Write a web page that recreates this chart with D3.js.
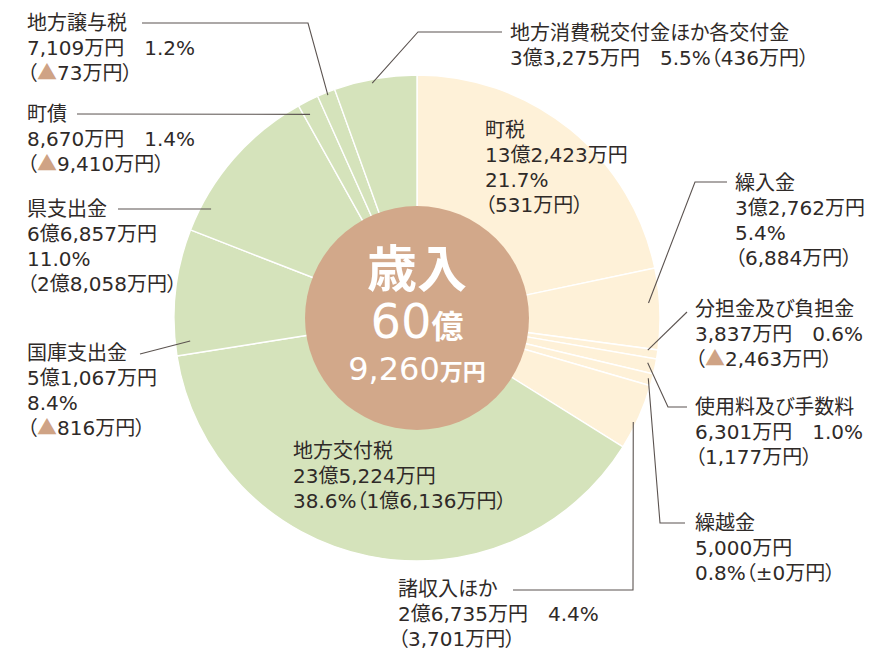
<!DOCTYPE html>
<meta charset="utf-8">
<title>歳入</title>
<script src="https://d3js.org/d3.v7.min.js"></script>
<style>
  body { margin: 0; background: #fff; }
  svg { display: block; font-family: "DejaVu Sans", "Noto Sans CJK JP", sans-serif; }
  .lbl { font-size: 20px; fill: #2f2a28; font-feature-settings: "palt" 1; }
  .tri { font-family: "Noto Sans CJK JP", sans-serif; }
  .lead { fill: none; stroke: #5b5350; stroke-width: 1.1; }
</style>
<body>
<svg></svg>
<script>
// data
var categories = ["町税", "繰入金", "分担金及び負担金", "使用料及び手数料", "繰越金", "諸収入ほか",
                  "地方交付税", "国庫支出金", "県支出金", "町債", "地方譲与税", "地方消費税交付金ほか各交付金"];
var amounts = ["13億2,423万円", "3億2,762万円", "3,837万円", "6,301万円", "5,000万円", "2億6,735万円",
               "23億5,224万円", "5億1,067万円", "6億6,857万円", "8,670万円", "7,109万円", "3億3,275万円"];
var shares = [21.7, 5.4, 0.6, 1.0, 0.8, 4.4, 38.6, 8.4, 11.0, 1.4, 1.2, 5.5];
var changes = ["531万円", "6,884万円", "▲2,463万円", "1,177万円", "±0万円", "3,701万円",
               "1億6,136万円", "▲816万円", "2億8,058万円", "▲9,410万円", "▲73万円", "436万円"];
var groups = ["own", "own", "own", "own", "own", "own", "dep", "dep", "dep", "dep", "dep", "dep"];
var totalTitle = "歳入", totalOku = "60", totalMan = "9,260";

// layout: label position, line format, leader line (end given as angle/radius on the pie)
var layout = [
  {x: 485, y: 130, fmt: "sep"},
  {x: 735, y: 183, fmt: "sep", lead: [[727, 182], [695, 182]], end: [86.3, 232]},
  {x: 695, y: 309, fmt: "inline", lead: [[687, 312]], end: [97.9, 233]},
  {x: 695, y: 407, fmt: "inline", lead: [[687, 407], [668, 407]], end: [101.0, 235]},
  {x: 695, y: 523, fmt: "pctdiff", lead: [[685, 523], [660, 523]], end: [104.6, 239]},
  {x: 398, y: 589, fmt: "inline", lead: [[513, 590], [633, 590]], end: [115.7, 240]},
  {x: 293, y: 451, fmt: "pctdiff"},
  {x: 27, y: 353, fmt: "sep", lead: [[140, 354]], end: [264.2, 228]},
  {x: 27, y: 209, fmt: "sep", lead: [[118, 209]], end: [297.9, 233]},
  {x: 27, y: 114, fmt: "inline", lead: [[77, 114]], end: [332.3, 230]},
  {x: 27, y: 23, fmt: "inline", lead: [[142, 23], [308, 23]], end: [338.2, 240]},
  {x: 510, y: 33, fmt: "oneline", lead: [[502, 32], [418, 32]], end: [349.2, 239]}
];

var width = 871, height = 652,
    cx = 417, cy = 318,
    outerR = 243, innerR = 112,
    lineH = 25;

var color = d3.scaleOrdinal().domain(["own", "dep"]).range(["#fef1d8", "#d5e3bb"]);
var triColor = "#cfa385";

var svg = d3.select("svg").attr("width", width).attr("height", height);

var pie = d3.pie().sort(null).value(function(d) { return d; });
var arcs = pie(shares);
var arc = d3.arc().innerRadius(0).outerRadius(outerR);

var g = svg.append("g").attr("transform", "translate(" + cx + "," + cy + ")");

g.selectAll(".slice")
    .data(arcs)
  .enter().append("path")
    .attr("class", "slice")
    .attr("d", arc)
    .attr("fill", function(d, i) { return color(groups[i]); })
    .attr("stroke", "#fff")
    .attr("stroke-width", 1.4);

// center disc
g.append("circle").attr("r", innerR).attr("fill", "#d2a88a");

var ct = g.append("g").attr("fill", "#fff").attr("text-anchor", "middle");
ct.append("text").attr("y", -31).attr("font-size", 50).attr("font-weight", "bold")
    .attr("font-family", "Noto Sans CJK JP").text(totalTitle);
var t2 = ct.append("text").attr("y", 20);
t2.append("tspan").attr("font-size", 48).text(totalOku);
t2.append("tspan").attr("font-size", 32).attr("font-weight", "bold").text("億");
var t3 = ct.append("text").attr("y", 62);
t3.append("tspan").attr("font-size", 32).text(totalMan);
t3.append("tspan").attr("font-size", 23).attr("font-weight", "bold").text("万円");

// labels
function paren(s) { return "（" + s + "）"; }
function labelLines(i, fmt) {
  var p = shares[i].toFixed(1) + "%";
  if (fmt === "sep") return [categories[i], amounts[i], p, paren(changes[i])];
  if (fmt === "inline") return [categories[i], amounts[i] + "　" + p, paren(changes[i])];
  if (fmt === "pctdiff") return [categories[i], amounts[i], p + paren(changes[i])];
  return [categories[i], amounts[i] + "　" + p + paren(changes[i])];
}

function addLine(text, s) {
  // triangle marks a decrease, drawn in brown
  s.split(/(▲)/).forEach(function(part) {
    if (!part) return;
    var ts = text.append("tspan").text(part);
    if (part === "▲") ts.attr("class", "tri").attr("fill", triColor);
  });
}

layout.forEach(function(L, i) {
  labelLines(i, L.fmt).forEach(function(s, k) {
    var line = svg.append("text").attr("class", "lbl")
        .attr("x", L.x).attr("y", L.y + k * lineH).attr("dy", "0.36em");
    addLine(line, s);
  });
  if (L.lead) {
    var a = L.end[0] * Math.PI / 180;
    var end = [cx + L.end[1] * Math.sin(a), cy - L.end[1] * Math.cos(a)];
    svg.append("path").attr("class", "lead")
        .attr("d", d3.line()(L.lead.concat([end])));
  }
});
</script>
</body>
